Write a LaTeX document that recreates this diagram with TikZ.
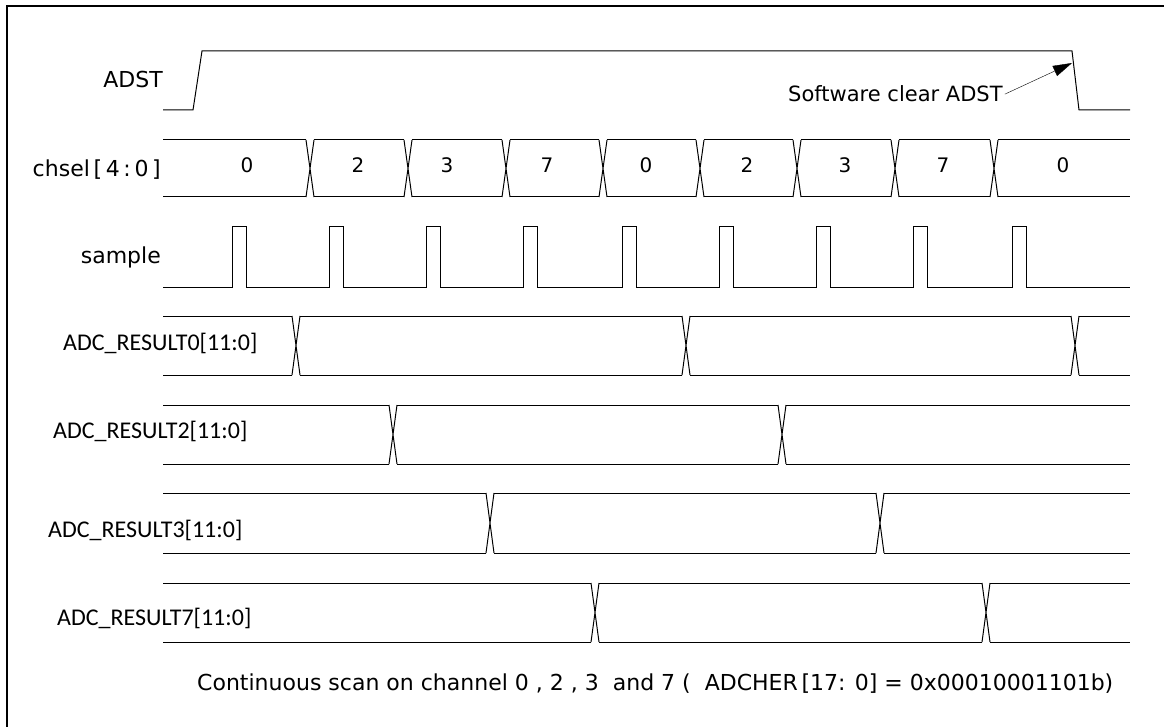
\documentclass[tikz,border=0pt]{standalone}
\usepackage{fontspec}
\setmainfont{DejaVu Sans}
\newfontfamily\carl{Carlito}
\usetikzlibrary{arrows.meta}

\tikzset{
    sig/.style={line width=1pt},
    siglbl/.style={font=\fontsize{22}{26}\selectfont, anchor=base east, inner sep=0pt},
    reslbl/.style={font=\carl\fontsize{24}{28}\selectfont, anchor=base west, inner sep=0pt},
    val/.style={font=\fontsize{20}{24}\selectfont, anchor=base, inner sep=0pt},
}

\begin{document}
\begin{tikzpicture}[x=1pt, y=-1pt]
        \useasboundingbox (0,0) rectangle (1164,727);
        % Marco
        \draw[line width=2pt] (7,727) -- (7,6) -- (1164,6);
        % Leyendas
        \node[siglbl] (adst) at (163,88) {ADST};
        \node[siglbl] (chsel) at (161,177) {chsel\,[\,4\,:\,0\,]};
        \node[siglbl] (sample) at (161,264) {sample};
        \node[reslbl] (res0) at (63,350) {ADC\_RESULT0[11:0]};
        \node[reslbl] (res2) at (53,438) {ADC\_RESULT2[11:0]};
        \node[reslbl] (res3) at (48,537) {ADC\_RESULT3[11:0]};
        \node[reslbl] (res7) at (57,625) {ADC\_RESULT7[11:0]};
        % ADST
        \draw[sig] (163,110) -- (193,110) -- (202,51) -- (1072,51) -- (1079,110) -- (1130,110);
        \node[font=\fontsize{21}{25}\selectfont, anchor=base west, inner sep=2pt] (swclr) at (786,102) {Software clear ADST};
        \coordinate (fall) at (1072,63);
        \draw[-{Triangle[length=19pt,width=11pt]}] (swclr.east) -- (fall);
        % chsel[4:0]
        \foreach \t [remember=\t as \p (initially 159)] in {310,408,506,603,700,797,895,994,1134}{
            \draw[sig] (\p+4,140) -- (\t-4,140) (\p+4,197) -- (\t-4,197);
        }
        \foreach \t in {310,408,506,603,700,797,895,994}{
            \draw[sig] (\t-4,140) -- (\t+4,197) (\t-4,197) -- (\t+4,140);
        }
        \foreach \v/\x [count=\i] in {0/247,2/358,3/447,7/547,0/646,2/747,3/845,7/943,0/1063}{
            \node[val] (v\i) at (\x,173) {\v};
        }
        % sample
        \draw[sig] (163,287) foreach \p in {232,329,426,523,622,719,816,913,1012}{
            -- (\p,287) -- (\p,227) -- (\p+14,227) -- (\p+14,287)
        } -- (1130,287);
        % ADC_RESULTx
        \foreach \yt/\yb/\ts in {316/375/{296,686,1075,1134}, 405/464/{393,782,1134},
                                 493/553/{490,880,1134}, 583/642/{595,986,1134}}{
            \foreach \t [remember=\t as \p (initially 159)] in \ts{
                \draw[sig] (\p+4,\yt) -- (\t-4,\yt) (\p+4,\yb) -- (\t-4,\yb);
                \ifnum\t<1134
                    \draw[sig] (\t-4,\yt) -- (\t+4,\yb) (\t-4,\yb) -- (\t+4,\yt);
                \fi
            }
        }
        % Nota
        \node[font=\fontsize{22}{26}\selectfont, anchor=base west, inner sep=0pt] (note) at (197,690)
            {Continuous scan on channel 0 , 2 , 3\ \ and 7 (\ \ ADCHER\,[17: 0] = 0x00010001101b)};
    \end{tikzpicture}
\end{document}
